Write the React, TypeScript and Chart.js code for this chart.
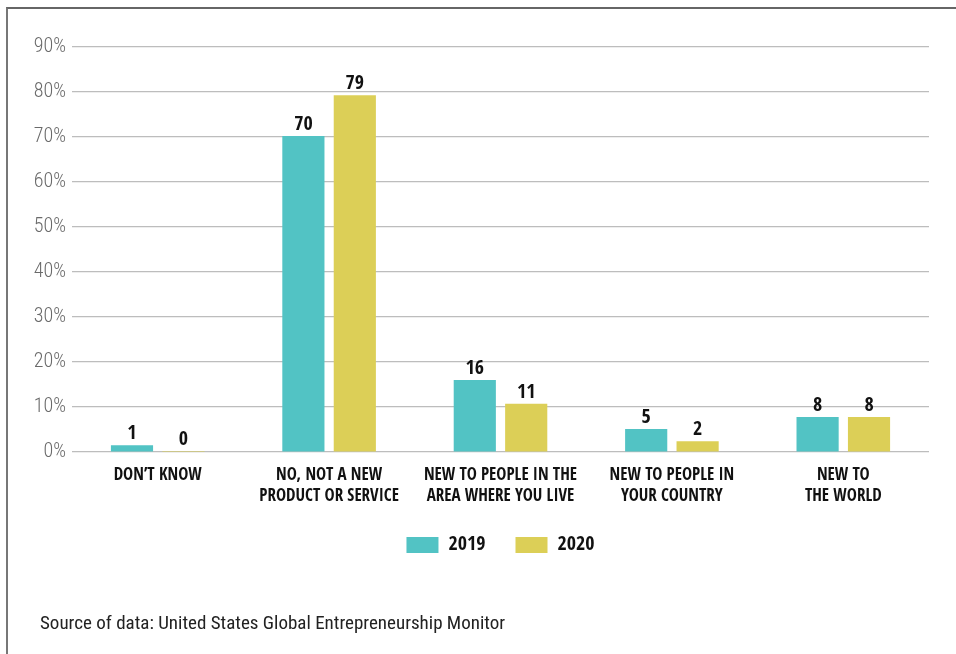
import React, { useEffect, useRef } from "react";
import { Chart, registerables } from "chart.js";

Chart.register(...registerables);

const categories: string[][] = [
  ["DON\u2019T KNOW"],
  ["NO, NOT A NEW", "PRODUCT OR SERVICE"],
  ["NEW TO PEOPLE IN THE", "AREA WHERE YOU LIVE"],
  ["NEW TO PEOPLE IN", "YOUR COUNTRY"],
  ["NEW TO", "THE WORLD"],
];
const values2019: number[] = [1.5, 70.2, 16.0, 5.1, 7.8];
const values2020: number[] = [0.2, 79.3, 10.7, 2.4, 7.8];
const labels2019: string[] = ["1", "70", "16", "5", "8"];
const labels2020: string[] = ["0", "79", "11", "2", "8"];
const yTicks: number[] = [0, 10, 20, 30, 40, 50, 60, 70, 80, 90];
const sourceText = "Source of data: United States Global Entrepreneurship Monitor";

const COND = '"Open Sans Condensed", "Roboto Condensed", "Open Sans", sans-serif';
const RCOND = '"Roboto Condensed", "Open Sans Condensed", sans-serif';

const valueLabelPlugin = {
  id: "valueLabels",
  afterDatasetsDraw(chart: any) {
    const ctx = chart.ctx;
    const texts = [labels2019, labels2020];
    ctx.save();
    ctx.font = `bold 20px ${COND}`;
    ctx.fillStyle = "#111111";
    ctx.textAlign = "center";
    ctx.textBaseline = "alphabetic";
    chart.data.datasets.forEach((ds: any, di: number) => {
      const meta = chart.getDatasetMeta(di);
      meta.data.forEach((el: any, i: number) => {
        ctx.fillText(texts[di][i], el.x, el.y - 6);
      });
    });
    ctx.restore();
  },
};

export default function App() {
  const ref = useRef<HTMLCanvasElement | null>(null);
  useEffect(() => {
    if (!ref.current) return;
    const chart = new Chart(ref.current, {
      type: "bar",
      data: {
        labels: categories,
        datasets: [
          {
            label: "2019",
            data: values2019,
            backgroundColor: "#52C3C4",
            categoryPercentage: 0.6,
            barPercentage: 0.82,
          },
          {
            label: "2020",
            data: values2020,
            backgroundColor: "#DCCF57",
            categoryPercentage: 0.6,
            barPercentage: 0.82,
          },
        ],
      },
      options: {
        animation: false,
        responsive: false,
        devicePixelRatio: 1,
        layout: { padding: { left: 0, right: 27, top: 47, bottom: 15 } },
        plugins: {
          legend: {
            position: "bottom",
            fullSize: false,
            labels: {
              boxWidth: 32,
              boxHeight: 16,
              padding: 30,
              color: "#111111",
              font: { family: COND, size: 20, weight: "bold" },
            },
          },
          tooltip: { enabled: false },
        },
        scales: {
          x: {
            grid: { display: false, drawTicks: false },
            border: { display: false },
            ticks: {
              color: "#111111",
              padding: 13,
              maxRotation: 0,
              autoSkip: false,
              font: { family: COND, size: 17, weight: "bold", lineHeight: 1.25 },
            },
            afterFit(scale: any) {
              scale.height = 53;
            },
          },
          y: {
            min: 0,
            max: 90,
            afterBuildTicks(scale: any) {
              scale.ticks = yTicks.map((v) => ({ value: v }));
            },
            grid: { color: "#bdbdbd", lineWidth: 1.2, drawTicks: false },
            border: { display: false },
            ticks: {
              color: "#6a6a6a",
              padding: 6,
              font: { family: RCOND, size: 20, weight: 300 },
              callback: (v: any) => `${v}%`,
            },
            afterFit(scale: any) {
              scale.width = 72;
            },
          },
        },
      },
      plugins: [valueLabelPlugin],
    });
    return () => chart.destroy();
  }, []);

  return (
    <div>
      <div
        style={{
          position: "fixed",
          left: 6,
          top: 7,
          right: -20,
          bottom: -20,
          borderLeft: "2px solid #777",
          borderTop: "2px solid #666",
        }}
      />
      <canvas
        ref={ref}
        width={956}
        height={580}
        style={{ position: "fixed", left: 0, top: 0, width: 956, height: 580 }}
      />
      <div
        style={{
          position: "fixed",
          left: 40,
          top: 611,
          fontFamily: RCOND,
          fontSize: 19,
          color: "#222",
          whiteSpace: "nowrap",
        }}
      >
        {sourceText}
      </div>
    </div>
  );
}
